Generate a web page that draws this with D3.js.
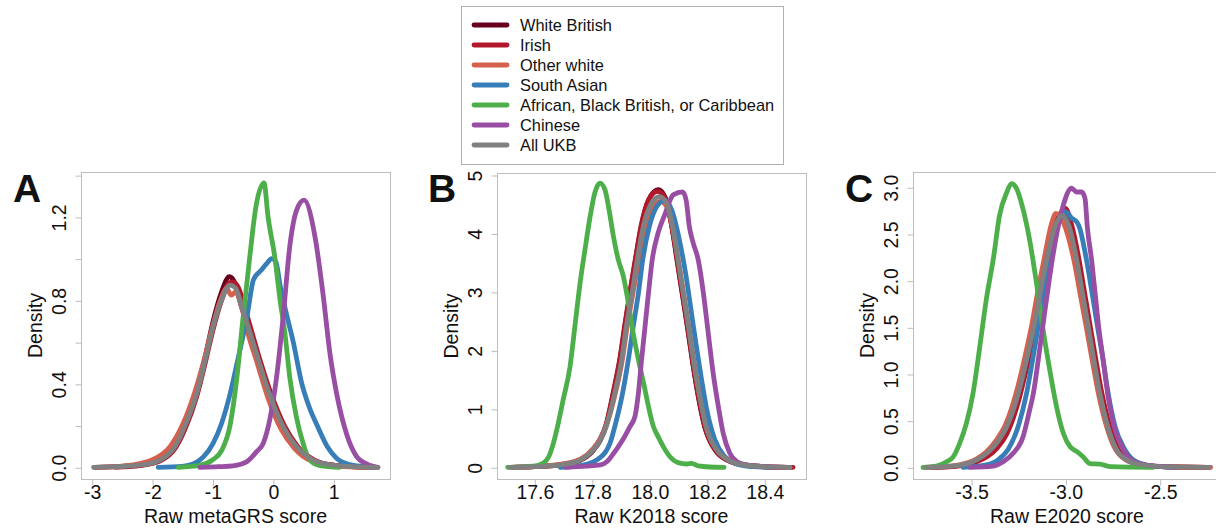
<!DOCTYPE html>
<html><head><meta charset="utf-8">
<script src="https://cdn.jsdelivr.net/npm/d3@7"></script>
<style>
body{margin:0;background:#fff}
svg{display:block}
text{font-family:"Liberation Sans",Arial,Helvetica,sans-serif;fill:#111}
</style>
</head><body>
<svg id="chart" width="1216" height="529"></svg>
<script>
// ---------------- DATA ----------------
const groups = ["White British","Irish","Other white","South Asian","African, Black British, or Caribbean","Chinese","All UKB"];
const groupColors = ["#67001f","#b2182b","#d6604d","#377eb8","#4daf4a","#984ea3","#808080"];

const panelLetters = ["A","B","C"];
const panelXTitles = ["Raw metaGRS score","Raw K2018 score","Raw E2020 score"];
const yTitle = "Density";

// Panel A: metaGRS
const xTicksA = [-3,-2,-1,0,1];
const yTicksA = [0,0.2,0.4,0.6,0.8,1.0,1.2,1.4];
const yLabelsA = [0,0.4,0.8,1.2];
const A_WB = [[-2.95,0],[-2.5,0.004],[-2.2,0.01],[-1.87,0.033],[-1.62,0.095],[-1.46,0.19],[-1.26,0.36],[-1.12,0.53],[-0.99,0.70],[-0.85,0.84],[-0.72,0.913],[-0.64,0.89],[-0.52,0.77],[-0.41,0.68],[-0.24,0.51],[-0.06,0.35],[0.17,0.19],[0.39,0.095],[0.67,0.033],[1.0,0.01],[1.4,0.002],[1.6,0]];
const A_IR = [[-2.6,0],[-2.2,0.008],[-1.87,0.03],[-1.62,0.09],[-1.46,0.18],[-1.26,0.34],[-1.12,0.50],[-0.99,0.66],[-0.85,0.80],[-0.74,0.88],[-0.66,0.889],[-0.57,0.86],[-0.47,0.77],[-0.38,0.68],[-0.22,0.52],[-0.04,0.36],[0.19,0.20],[0.41,0.10],[0.69,0.035],[1.0,0.01],[1.4,0.002],[1.65,0]];
const A_OW = [[-2.9,0],[-2.5,0.006],[-2.2,0.018],[-2.0,0.035],[-1.70,0.10],[-1.51,0.195],[-1.30,0.354],[-1.14,0.514],[-1.0,0.673],[-0.87,0.80],[-0.765,0.857],[-0.69,0.825],[-0.616,0.84],[-0.52,0.77],[-0.43,0.66],[-0.26,0.50],[-0.09,0.34],[0.14,0.18],[0.36,0.09],[0.64,0.03],[1.0,0.008],[1.4,0.001],[1.7,0]];
const A_SA = [[-1.90,0],[-1.5,0.005],[-1.32,0.016],[-1.15,0.05],[-0.99,0.115],[-0.85,0.21],[-0.71,0.35],[-0.57,0.53],[-0.43,0.72],[-0.32,0.90],[-0.19,0.945],[-0.10,0.977],[-0.02,1.0],[0.05,0.985],[0.12,0.87],[0.22,0.74],[0.33,0.61],[0.48,0.40],[0.60,0.29],[0.75,0.19],[0.90,0.10],[1.05,0.045],[1.25,0.015],[1.5,0.004],[1.72,0]];
const A_AF = [[-1.57,0],[-1.2,0.01],[-1.0,0.035],[-0.85,0.08],[-0.71,0.20],[-0.60,0.42],[-0.50,0.70],[-0.39,0.99],[-0.28,1.25],[-0.147,1.363],[-0.08,1.20],[0.03,1.01],[0.12,0.80],[0.20,0.64],[0.28,0.43],[0.39,0.24],[0.50,0.115],[0.61,0.035],[0.78,0.008],[1.1,0]];
const A_CH = [[-1.21,0],[-0.9,0.003],[-0.66,0.007],[-0.43,0.027],[-0.27,0.075],[-0.16,0.115],[-0.05,0.23],[0.06,0.43],[0.17,0.72],[0.28,1.06],[0.39,1.23],[0.515,1.28],[0.70,1.10],[0.83,0.83],[0.945,0.545],[1.055,0.354],[1.22,0.16],[1.39,0.05],[1.55,0.016],[1.74,0]];
const A_ALL = [[-2.97,0],[-2.6,0.003],[-2.2,0.01],[-1.87,0.035],[-1.62,0.10],[-1.46,0.195],[-1.26,0.354],[-1.12,0.514],[-0.99,0.673],[-0.85,0.80],[-0.71,0.873],[-0.62,0.86],[-0.50,0.753],[-0.41,0.675],[-0.24,0.516],[-0.06,0.354],[0.17,0.195],[0.39,0.099],[0.67,0.035],[1.0,0.01],[1.4,0.002],[1.74,0]];

// Panel B: K2018
const xTicksB = [17.6,17.8,18.0,18.2,18.4];
const yTicksB = [0,1,2,3,4,5];
const yLabelsB = [0,1,2,3,4,5];
const B_WB = [[17.52,0],[17.6,0.01],[17.69,0.04],[17.76,0.12],[17.805,0.29],[17.83,0.47],[17.85,0.72],[17.875,1.27],[17.898,1.84],[17.915,2.41],[17.933,2.98],[17.952,3.55],[17.972,4.12],[17.998,4.58],[18.031,4.75],[18.055,4.62],[18.077,4.15],[18.096,3.55],[18.114,2.98],[18.132,2.41],[18.149,1.84],[18.168,1.27],[18.192,0.70],[18.23,0.29],[18.272,0.12],[18.325,0.04],[18.4,0.008],[18.47,0]];
const B_IR = [[17.53,0],[17.6,0.01],[17.69,0.045],[17.76,0.13],[17.805,0.31],[17.83,0.49],[17.85,0.74],[17.875,1.30],[17.898,1.88],[17.915,2.45],[17.933,3.02],[17.952,3.58],[17.972,4.15],[17.998,4.58],[18.028,4.72],[18.055,4.60],[18.078,4.12],[18.098,3.52],[18.116,2.95],[18.134,2.38],[18.151,1.80],[18.17,1.24],[18.194,0.68],[18.232,0.28],[18.274,0.12],[18.33,0.04],[18.42,0.008],[18.5,0]];
const B_OW = [[17.52,0],[17.6,0.012],[17.69,0.05],[17.76,0.14],[17.805,0.32],[17.83,0.50],[17.852,0.74],[17.882,1.27],[17.906,1.84],[17.923,2.41],[17.943,2.98],[17.962,3.50],[17.985,4.05],[18.012,4.45],[18.038,4.55],[18.062,4.45],[18.083,4.05],[18.102,3.50],[18.12,2.95],[18.138,2.38],[18.155,1.82],[18.175,1.25],[18.198,0.70],[18.236,0.30],[18.278,0.13],[18.33,0.04],[18.42,0.008],[18.48,0]];
const B_SA = [[17.69,0],[17.75,0.02],[17.817,0.125],[17.863,0.41],[17.88,0.70],[17.907,1.27],[17.927,1.84],[17.944,2.41],[17.962,2.98],[17.977,3.55],[18.0,4.12],[18.026,4.46],[18.055,4.57],[18.078,4.40],[18.107,3.83],[18.128,3.26],[18.145,2.69],[18.162,2.12],[18.18,1.55],[18.2,0.98],[18.228,0.47],[18.263,0.18],[18.304,0.057],[18.362,0.01],[18.42,0]];
const B_AF = [[17.507,0],[17.597,0.02],[17.63,0.07],[17.65,0.18],[17.666,0.41],[17.683,0.75],[17.70,1.15],[17.724,1.72],[17.741,2.41],[17.759,3.15],[17.776,3.72],[17.794,4.29],[17.81,4.69],[17.828,4.86],[17.846,4.74],[17.86,4.40],[17.875,3.95],[17.892,3.55],[17.91,3.26],[17.927,2.81],[17.944,2.29],[17.962,1.84],[17.98,1.44],[17.997,1.04],[18.014,0.70],[18.031,0.52],[18.049,0.35],[18.072,0.18],[18.10,0.08],[18.13,0.057],[18.147,0.068],[18.17,0.023],[18.21,0.005],[18.26,0]];
const B_CH = [[17.71,0],[17.78,0.02],[17.83,0.04],[17.853,0.10],[17.876,0.24],[17.90,0.41],[17.933,0.70],[17.95,0.87],[17.962,1.27],[17.973,1.84],[17.985,2.41],[17.997,2.98],[18.01,3.55],[18.03,4.0],[18.055,4.34],[18.072,4.57],[18.083,4.66],[18.116,4.71],[18.128,4.57],[18.139,4.12],[18.153,3.83],[18.17,3.55],[18.188,2.98],[18.205,2.29],[18.222,1.61],[18.24,1.04],[18.257,0.58],[18.28,0.24],[18.304,0.10],[18.34,0.04],[18.41,0.01],[18.478,0]];
const B_ALL = [[17.515,0],[17.6,0.01],[17.69,0.04],[17.76,0.125],[17.805,0.30],[17.83,0.47],[17.85,0.70],[17.88,1.27],[17.904,1.84],[17.92,2.41],[17.94,2.98],[17.958,3.55],[17.979,4.12],[18.008,4.52],[18.035,4.63],[18.06,4.52],[18.081,4.12],[18.10,3.55],[18.118,2.98],[18.136,2.41],[18.153,1.84],[18.173,1.27],[18.197,0.70],[18.234,0.30],[18.275,0.125],[18.327,0.04],[18.4,0.01],[18.49,0]];

// Panel C: E2020
const xTicksC = [-3.5,-3.0,-2.5];
const yTicksC = [0,0.5,1.0,1.5,2.0,2.5,3.0];
const yLabelsC = [0,0.5,1.0,1.5,2.0,2.5,3.0];
const C_WB = [[-3.72,0],[-3.6,0.01],[-3.47,0.075],[-3.365,0.24],[-3.31,0.42],[-3.25,0.77],[-3.206,1.13],[-3.167,1.50],[-3.135,1.85],[-3.10,2.22],[-3.058,2.60],[-3.012,2.74],[-2.975,2.60],[-2.935,2.22],[-2.904,1.86],[-2.874,1.51],[-2.844,1.15],[-2.812,0.79],[-2.771,0.44],[-2.732,0.22],[-2.67,0.08],[-2.585,0.025],[-2.45,0.004],[-2.26,0]];
const C_IR = [[-3.70,0],[-3.6,0.008],[-3.47,0.06],[-3.365,0.2],[-3.31,0.36],[-3.25,0.70],[-3.206,1.06],[-3.167,1.42],[-3.135,1.78],[-3.10,2.15],[-3.06,2.52],[-3.03,2.70],[-3.0,2.775],[-2.97,2.62],[-2.93,2.25],[-2.899,1.88],[-2.869,1.52],[-2.839,1.16],[-2.807,0.80],[-2.766,0.45],[-2.727,0.22],[-2.665,0.08],[-2.58,0.025],[-2.45,0.004],[-2.233,0]];
const C_OW = [[-3.75,0],[-3.6,0.015],[-3.47,0.09],[-3.37,0.28],[-3.315,0.47],[-3.258,0.82],[-3.215,1.18],[-3.176,1.55],[-3.145,1.90],[-3.11,2.26],[-3.075,2.60],[-3.05,2.72],[-3.01,2.62],[-2.955,2.22],[-2.922,1.86],[-2.89,1.51],[-2.858,1.15],[-2.825,0.79],[-2.782,0.44],[-2.742,0.22],[-2.68,0.08],[-2.59,0.025],[-2.45,0.004],[-2.23,0]];
const C_SA = [[-3.542,0],[-3.40,0.036],[-3.357,0.08],[-3.304,0.19],[-3.25,0.44],[-3.206,0.79],[-3.174,1.15],[-3.144,1.51],[-3.118,1.86],[-3.09,2.22],[-3.05,2.58],[-3.01,2.72],[-3.0,2.74],[-2.967,2.67],[-2.94,2.63],[-2.927,2.58],[-2.888,2.22],[-2.858,1.86],[-2.83,1.51],[-2.80,1.15],[-2.773,0.79],[-2.737,0.44],[-2.693,0.22],[-2.64,0.08],[-2.57,0.025],[-2.48,0.005],[-2.42,0]];
const C_AF = [[-3.755,0],[-3.684,0.013],[-3.63,0.06],[-3.596,0.11],[-3.56,0.26],[-3.525,0.47],[-3.49,0.79],[-3.454,1.29],[-3.42,1.79],[-3.38,2.26],[-3.35,2.69],[-3.31,2.95],[-3.286,3.04],[-3.26,2.99],[-3.224,2.76],[-3.19,2.44],[-3.153,1.97],[-3.118,1.47],[-3.08,1.01],[-3.047,0.65],[-3.01,0.36],[-2.975,0.22],[-2.94,0.17],[-2.905,0.11],[-2.87,0.04],[-2.817,0.035],[-2.76,0.007],[-2.534,0]];
const C_CH = [[-3.507,0],[-3.383,0.014],[-3.33,0.06],[-3.277,0.15],[-3.224,0.33],[-3.19,0.61],[-3.17,0.79],[-3.144,1.15],[-3.12,1.51],[-3.096,1.86],[-3.07,2.22],[-3.038,2.58],[-3.008,2.83],[-2.967,2.99],[-2.94,2.95],[-2.914,2.95],[-2.896,2.88],[-2.884,2.58],[-2.861,2.22],[-2.842,1.86],[-2.824,1.51],[-2.80,1.15],[-2.776,0.79],[-2.742,0.44],[-2.70,0.22],[-2.65,0.08],[-2.57,0.025],[-2.48,0.007],[-2.41,0]];
const C_ALL = [[-3.737,0],[-3.6,0.012],[-3.47,0.08],[-3.365,0.26],[-3.31,0.44],[-3.25,0.79],[-3.206,1.15],[-3.167,1.51],[-3.135,1.86],[-3.10,2.22],[-3.056,2.58],[-3.017,2.70],[-2.98,2.58],[-2.94,2.22],[-2.909,1.86],[-2.879,1.51],[-2.849,1.15],[-2.817,0.79],[-2.776,0.44],[-2.737,0.22],[-2.675,0.08],[-2.587,0.025],[-2.45,0.004],[-2.24,0]];

// ---------------- LAYOUT ----------------
const panels = [
  {letter:panelLetters[0], title:panelXTitles[0], series:[A_WB,A_IR,A_OW,A_SA,A_AF,A_CH,A_ALL],
   xDomain:[-3.177,1.939], yDomain:[-0.056,1.415], box:[81,390,172,479],
   xTicks:xTicksA, yTicks:yTicksA, yLabels:yLabelsA, xFmt:d3.format("d"), yFmt:d3.format(".1f"), letterX:13},
  {letter:panelLetters[1], title:panelXTitles[1], series:[B_WB,B_IR,B_OW,B_SA,B_AF,B_CH,B_ALL],
   xDomain:[17.470,18.545], yDomain:[-0.200,5.034], box:[497,806,173,479],
   xTicks:xTicksB, yTicks:yTicksB, yLabels:yLabelsB, xFmt:d3.format(".1f"), yFmt:d3.format("d"), letterX:428},
  {letter:panelLetters[2], title:panelXTitles[2], series:[C_WB,C_IR,C_OW,C_SA,C_AF,C_CH,C_ALL],
   xDomain:[-3.808,-2.175], yDomain:[-0.125,3.164], box:[913,1221,172,479],
   xTicks:xTicksC, yTicks:yTicksC, yLabels:yLabelsC, xFmt:d3.format(".1f"), yFmt:d3.format(".1f"), letterX:845}
];

const svg = d3.select("#chart");
const frameColor = "#bdbdbd";
const fontSize = 19.5;
const lineW = 4.8;

panels.forEach(p => {
  const [x0,x1,y0,y1] = p.box;
  const x = d3.scaleLinear().domain(p.xDomain).range([x0,x1]);
  const y = d3.scaleLinear().domain(p.yDomain).range([y1,y0]);
  const g = svg.append("g");

  g.append("rect").attr("x",x0+0.5).attr("y",y0+0.5).attr("width",x1-x0).attr("height",y1-y0)
    .attr("fill","none").attr("stroke",frameColor).attr("stroke-width",1);

  // x axis
  const xa = g.append("g").attr("transform",`translate(0.5,${y1+0.5})`)
    .call(d3.axisBottom(x).tickValues(p.xTicks).tickFormat(p.xFmt).tickSize(6));
  xa.select(".domain").remove();
  xa.selectAll("line").attr("stroke",frameColor);
  xa.selectAll("text").attr("y",19).attr("dy",0).style("font-size",fontSize+"px")
    .attr("fill","#111").text(d => p.xFmt(d).replace("\u2212","-"));

  // y axis
  const ya = g.append("g").attr("transform",`translate(${x0+0.5},0.5)`)
    .call(d3.axisLeft(y).tickValues(p.yTicks).tickSize(6)
      .tickFormat(d => p.yLabels.some(v => Math.abs(v-d)<1e-9) ? p.yFmt(d) : ""));
  ya.select(".domain").remove();
  ya.selectAll("line").attr("stroke",frameColor);
  ya.selectAll("text").attr("transform","rotate(-90)").attr("x",0).attr("y",-16).attr("dy",0)
    .attr("text-anchor","middle").style("font-size",fontSize+"px").attr("fill","#111");

  // titles
  g.append("text").attr("x",(x0+x1)/2).attr("y",523).attr("text-anchor","middle")
    .style("font-size",fontSize+"px").text(p.title);
  g.append("text").attr("transform",`translate(${x0-39},${(y0+y1)/2}) rotate(-90)`)
    .attr("text-anchor","middle").style("font-size",fontSize+"px").text(yTitle);
  g.append("text").attr("x",p.letterX).attr("y",202).style("font-size","39px")
    .style("font-weight","bold").attr("fill","#000").text(p.letter);

  // curves
  const line = d3.line().x(d=>x(d[0])).y(d=>y(d[1])).curve(d3.curveMonotoneX);
  p.series.forEach((s,i) => {
    g.append("path").attr("d",line(s)).attr("fill","none").attr("stroke",groupColors[i])
      .attr("stroke-width",lineW).attr("stroke-linejoin","round").attr("stroke-linecap","round");
  });
});

// legend
const lg = svg.append("g");
lg.append("rect").attr("x",461.5).attr("y",6.5).attr("width",322).attr("height",158)
  .attr("fill","#fff").attr("stroke","#b0b0b0");
groups.forEach((name,i) => {
  const yy = 25 + i*20;
  lg.append("line").attr("x1",474).attr("x2",507).attr("y1",yy).attr("y2",yy)
    .attr("stroke",groupColors[i]).attr("stroke-width",lineW).attr("stroke-linecap","round");
  lg.append("text").attr("x",520).attr("y",yy).attr("dy","0.36em").style("font-size","16.4px").text(name);
});
</script>
</body></html>
